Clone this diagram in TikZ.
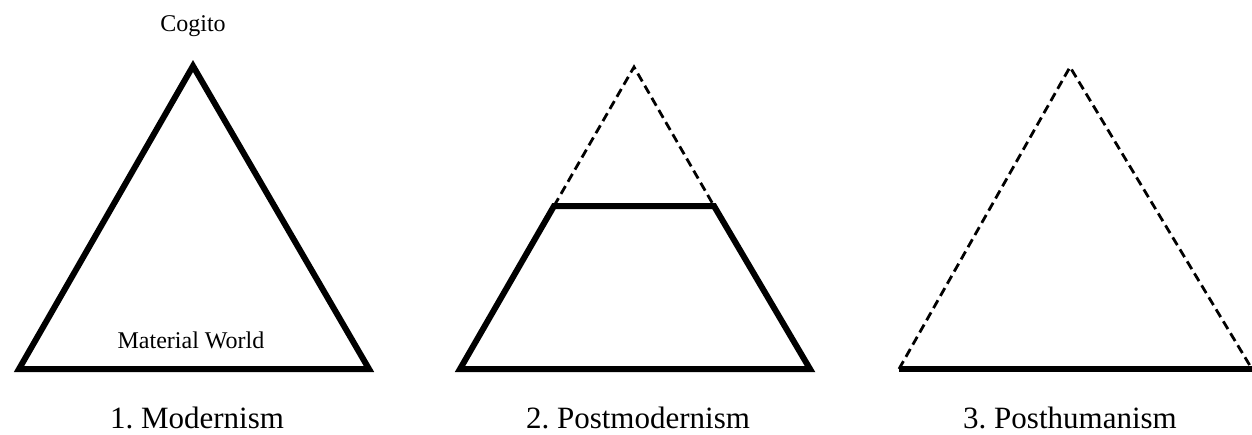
\documentclass[tikz,border=0pt]{standalone}
\usepackage{fontspec}
\setmainfont{Liberation Serif}
\frenchspacing
\begin{document}
\begin{tikzpicture}[x=1pt,y=-1pt,
  solidedge/.style={line width=6pt,line join=miter,line cap=butt},
  dashedge/.style={line width=2.8pt,dash pattern=on 9pt off 5pt,line cap=butt},
  smalllabel/.style={font=\fontsize{24}{28}\selectfont,inner sep=0pt,anchor=base},
  biglabel/.style={font=\fontsize{31}{36}\selectfont,inner sep=0pt,anchor=base}]
\useasboundingbox (0,0) rectangle (1252,434);
% triangle 1
\coordinate (a1) at (193,66);
\coordinate (l1) at (19,369);
\coordinate (r1) at (369,369);
\draw[solidedge] (a1) -- (l1) -- (r1) -- cycle;
\node[smalllabel] (cogito) at (193,31) {Cogito};
\node[smalllabel] (world) at (191,348) {Material World};
\node[biglabel] (m1) at (197,428) {1.\ Modernism};
% triangle 2
\coordinate (a2) at (634,67);
\coordinate (l2) at (460,369);
\coordinate (r2) at (810,369);
\coordinate (tl2) at (554,206);
\coordinate (tr2) at (714,206);
\draw[dashedge] (tl2) -- (a2) -- (tr2);
\draw[solidedge] (tl2) -- (l2) -- (r2) -- (tr2) -- cycle;
\node[biglabel] (m2) at (638,428) {2.\ Postmodernism};
% triangle 3
\coordinate (a3) at (1070,67);
\coordinate (l3) at (899,369);
\coordinate (r3) at (1252,369);
\draw[dashedge] (l3) -- (a3) -- (r3);
\draw[line width=6pt] (l3) -- (1260,369);
\node[biglabel] (m3) at (1070,428) {3.\ Posthumanism};
\end{tikzpicture}
\end{document}
